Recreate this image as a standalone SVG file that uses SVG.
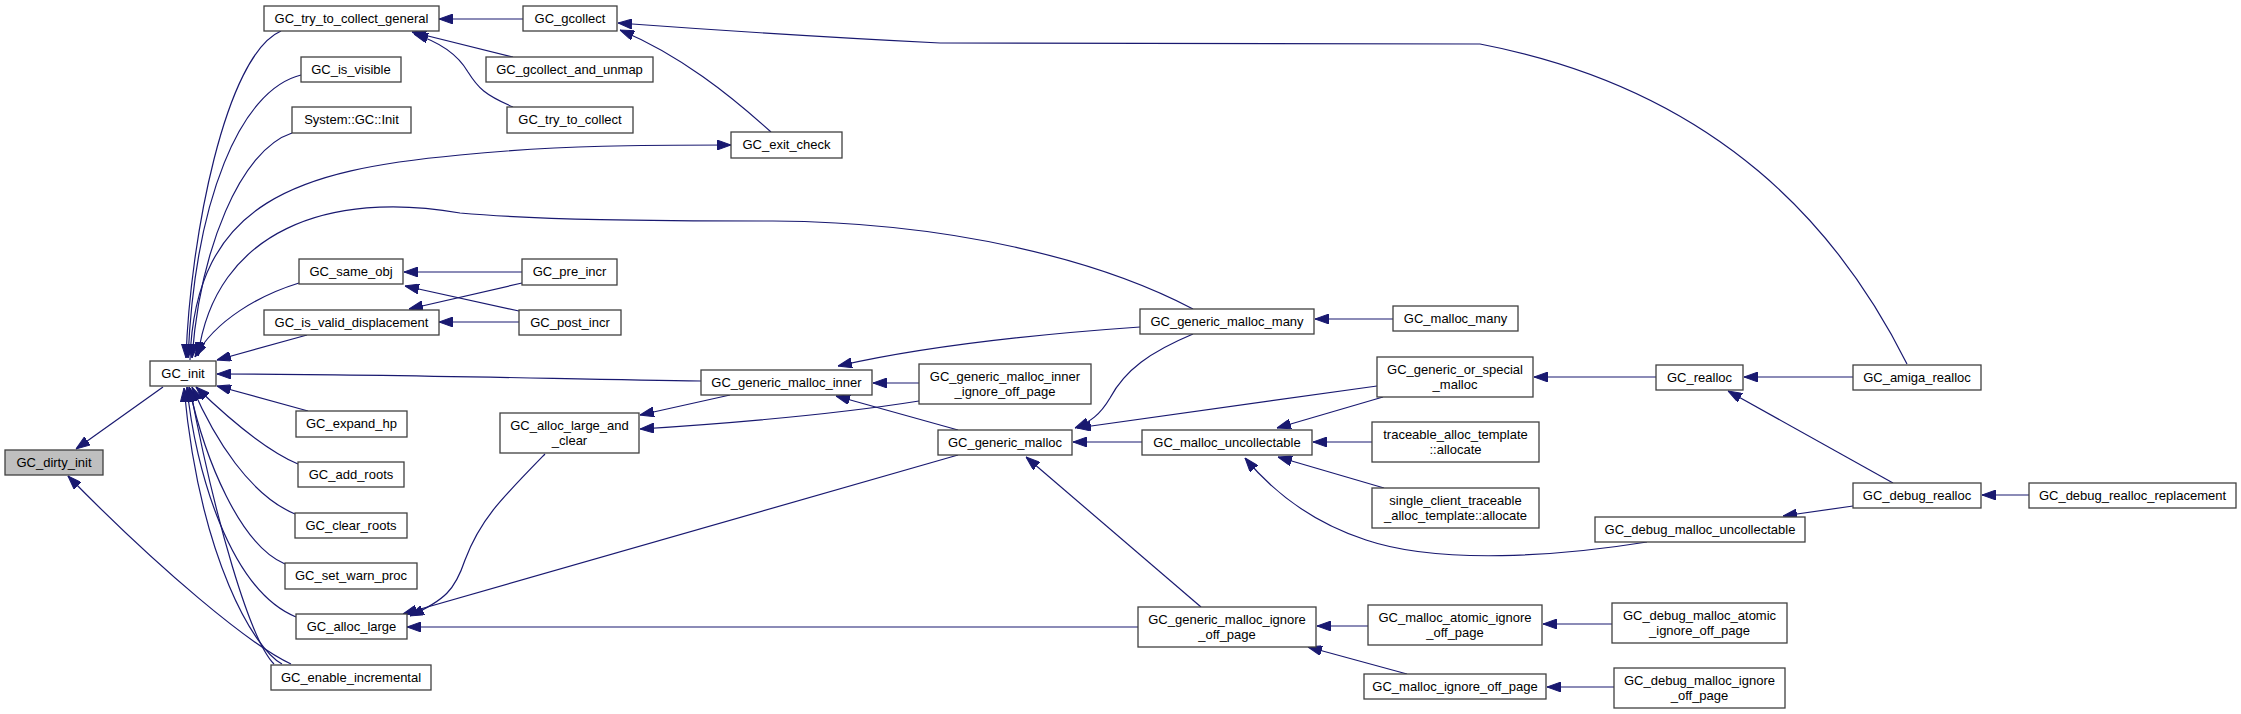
<svg xmlns="http://www.w3.org/2000/svg" width="2241" height="714" viewBox="0 0 2241 714">
<style>
.n rect{fill:#fff;stroke:#404040;stroke-width:1.3}
.n.root rect{fill:#bfbfbf}
.n text{font-family:"Liberation Sans",Arial,sans-serif;font-size:13px;fill:#000;text-anchor:middle}
#edges path{fill:none;stroke:#191970;stroke-width:1.2;marker-end:url(#ah)}
#edges path.na{marker-end:none}
</style>
<defs>
<marker id="ah" markerUnits="userSpaceOnUse" markerWidth="14" markerHeight="10" refX="14" refY="5" orient="auto">
<path d="M0,0 L14,5 L0,10 z" fill="#191970" stroke="#191970"/>
</marker>
</defs>
<rect width="2241" height="714" fill="#fff"/>
<g id="edges">
<path d="M163,387 L76,449"/>
<path d="M291,664 C250,645 160,570 68,476"/>
<path d="M281,31 C225,55 190,240 186,358"/>
<path d="M301,75 C240,90 195,200 188,358"/>
<path d="M292,133 C240,150 200,250 192,358"/>
<path d="M190,360 C195,200 300,170 460,155 C560,145 650,145 731,145"/>
<path d="M1193,309 C1100,260 950,222 773,221 C650,221 540,220 460,213 C330,190 215,230 198,356"/>
<path d="M299,283 C260,295 215,320 195,357"/>
<path d="M307,335 L217,360"/>
<path d="M701,381 C560,379 380,374 217,374"/>
<path d="M308,411 L217,386"/>
<path d="M298,464 C265,450 230,420 196,387"/>
<path d="M295,514 C250,495 215,440 192,387"/>
<path d="M285,564 C240,545 205,460 189,387"/>
<path d="M296,617 C230,590 195,470 187,387"/>
<path d="M282,664 C255,650 200,560 184,388"/>
<path d="M274,664 C250,640 215,520 190,388"/>
<path d="M523,19 L439,19"/>
<path d="M513,57 L412,32"/>
<path d="M513,107 C485,95 478,88 468,72 C458,55 440,42 414,34"/>
<path d="M1907,364 C1840,230 1720,90 1480,44 L940,43 C800,36 700,29 618,23"/>
<path d="M771,132 C730,95 680,55 620,30"/>
<path d="M522,272 L404,272"/>
<path d="M519,311 L405,286"/>
<path d="M522,283 L409,309"/>
<path d="M519,322 L439,322"/>
<path d="M1140,327 C1040,334 930,345 838,366"/>
<path d="M919,383 L873,383"/>
<path d="M958,430 L836,396"/>
<path d="M730,395 L640,415"/>
<path d="M919,401 C850,412 750,422 640,429"/>
<path d="M545,454 C500,500 480,520 465,560 C455,590 445,600 410,616"/>
<path d="M958,455 L403,614"/>
<path d="M1138,627 L407,627"/>
<path d="M1193,334 C1150,352 1125,370 1110,398 C1100,415 1090,422 1075,428"/>
<path d="M1377,386 L1077,428"/>
<path d="M1142,442 L1073,442"/>
<path d="M1201,607 L1026,457"/>
<path d="M1383,397 L1277,428"/>
<path d="M1372,442 L1313,442"/>
<path d="M1384,488 L1278,457"/>
<path d="M1647,542 C1560,556 1440,565 1366,540 C1320,525 1280,500 1245,458"/>
<path d="M1393,319 L1315,319"/>
<path d="M1656,377 L1534,377"/>
<path d="M1853,377 L1744,377"/>
<path d="M1893,483 L1728,391"/>
<path d="M1853,506 L1783,516"/>
<path d="M2029,495 L1982,495"/>
<path d="M1368,626 L1317,626"/>
<path d="M1407,674 L1308,647"/>
<path d="M1612,624 L1543,624"/>
<path d="M1614,687 L1547,687"/>
</g>
<g id="n_dirty_init" class="n root"><rect x="5" y="450" width="98" height="25"/><text x="54" y="467">GC_dirty_init</text></g>
<g id="n_init" class="n"><rect x="150" y="361" width="66" height="25"/><text x="183" y="378">GC_init</text></g>
<g id="n_try_to_collect_general" class="n"><rect x="264" y="6" width="175" height="25"/><text x="351.5" y="23">GC_try_to_collect_general</text></g>
<g id="n_is_visible" class="n"><rect x="301" y="57" width="100" height="25"/><text x="351" y="74">GC_is_visible</text></g>
<g id="n_system_gc_init" class="n"><rect x="292" y="107" width="119" height="26"/><text x="351.5" y="124">System::GC::Init</text></g>
<g id="n_same_obj" class="n"><rect x="299" y="259" width="104" height="25"/><text x="351" y="276">GC_same_obj</text></g>
<g id="n_is_valid_displacement" class="n"><rect x="264" y="310" width="175" height="25"/><text x="351.5" y="327">GC_is_valid_displacement</text></g>
<g id="n_expand_hp" class="n"><rect x="296" y="411" width="111" height="26"/><text x="351.5" y="428">GC_expand_hp</text></g>
<g id="n_add_roots" class="n"><rect x="298" y="462" width="106" height="25"/><text x="351" y="479">GC_add_roots</text></g>
<g id="n_clear_roots" class="n"><rect x="295" y="513" width="112" height="25"/><text x="351" y="530">GC_clear_roots</text></g>
<g id="n_set_warn_proc" class="n"><rect x="285" y="563" width="132" height="26"/><text x="351" y="580">GC_set_warn_proc</text></g>
<g id="n_alloc_large" class="n"><rect x="296" y="614" width="111" height="25"/><text x="351.5" y="631">GC_alloc_large</text></g>
<g id="n_enable_incremental" class="n"><rect x="271" y="665" width="160" height="25"/><text x="351" y="682">GC_enable_incremental</text></g>
<g id="n_gcollect" class="n"><rect x="523" y="6" width="94" height="25"/><text x="570" y="23">GC_gcollect</text></g>
<g id="n_gcollect_and_unmap" class="n"><rect x="486" y="57" width="167" height="25"/><text x="569.5" y="74">GC_gcollect_and_unmap</text></g>
<g id="n_try_to_collect" class="n"><rect x="507" y="107" width="126" height="26"/><text x="570" y="124">GC_try_to_collect</text></g>
<g id="n_exit_check" class="n"><rect x="731" y="132" width="111" height="26"/><text x="786.5" y="149">GC_exit_check</text></g>
<g id="n_pre_incr" class="n"><rect x="522" y="259" width="95" height="26"/><text x="569.5" y="276">GC_pre_incr</text></g>
<g id="n_post_incr" class="n"><rect x="519" y="310" width="102" height="25"/><text x="570" y="327">GC_post_incr</text></g>
<g id="n_generic_malloc_inner" class="n"><rect x="701" y="370" width="171" height="25"/><text x="786.5" y="387">GC_generic_malloc_inner</text></g>
<g id="n_alloc_large_and_clear" class="n"><rect x="500" y="413" width="139" height="40"/><text x="569.5" y="430">GC_alloc_large_and</text><text x="569.5" y="445">_clear</text></g>
<g id="n_generic_malloc_inner_ignore_off_page" class="n"><rect x="919" y="364" width="172" height="40"/><text x="1005" y="381">GC_generic_malloc_inner</text><text x="1005" y="396">_ignore_off_page</text></g>
<g id="n_generic_malloc" class="n"><rect x="938" y="430" width="134" height="25"/><text x="1005" y="447">GC_generic_malloc</text></g>
<g id="n_generic_malloc_many" class="n"><rect x="1140" y="309" width="174" height="25"/><text x="1227" y="326">GC_generic_malloc_many</text></g>
<g id="n_malloc_many" class="n"><rect x="1393" y="306" width="125" height="25"/><text x="1455.5" y="323">GC_malloc_many</text></g>
<g id="n_generic_or_special_malloc" class="n"><rect x="1377" y="357" width="156" height="40"/><text x="1455" y="374">GC_generic_or_special</text><text x="1455" y="389">_malloc</text></g>
<g id="n_malloc_uncollectable" class="n"><rect x="1142" y="430" width="170" height="25"/><text x="1227" y="447">GC_malloc_uncollectable</text></g>
<g id="n_traceable_alloc" class="n"><rect x="1372" y="422" width="167" height="40"/><text x="1455.5" y="439">traceable_alloc_template</text><text x="1455.5" y="454">::allocate</text></g>
<g id="n_single_client_alloc" class="n"><rect x="1372" y="488" width="167" height="40"/><text x="1455.5" y="505">single_client_traceable</text><text x="1455.5" y="520">_alloc_template::allocate</text></g>
<g id="n_realloc" class="n"><rect x="1656" y="365" width="87" height="25"/><text x="1699.5" y="382">GC_realloc</text></g>
<g id="n_amiga_realloc" class="n"><rect x="1853" y="365" width="128" height="25"/><text x="1917" y="382">GC_amiga_realloc</text></g>
<g id="n_debug_realloc" class="n"><rect x="1853" y="483" width="128" height="25"/><text x="1917" y="500">GC_debug_realloc</text></g>
<g id="n_debug_realloc_replacement" class="n"><rect x="2029" y="483" width="207" height="25"/><text x="2132.5" y="500">GC_debug_realloc_replacement</text></g>
<g id="n_debug_malloc_uncollectable" class="n"><rect x="1595" y="517" width="210" height="25"/><text x="1700" y="534">GC_debug_malloc_uncollectable</text></g>
<g id="n_generic_malloc_ignore_off_page" class="n"><rect x="1138" y="607" width="178" height="40"/><text x="1227" y="624">GC_generic_malloc_ignore</text><text x="1227" y="639">_off_page</text></g>
<g id="n_malloc_atomic_ignore_off_page" class="n"><rect x="1368" y="605" width="174" height="40"/><text x="1455" y="622">GC_malloc_atomic_ignore</text><text x="1455" y="637">_off_page</text></g>
<g id="n_malloc_ignore_off_page" class="n"><rect x="1364" y="674" width="182" height="25"/><text x="1455" y="691">GC_malloc_ignore_off_page</text></g>
<g id="n_debug_malloc_atomic_ignore_off_page" class="n"><rect x="1612" y="603" width="175" height="40"/><text x="1699.5" y="620">GC_debug_malloc_atomic</text><text x="1699.5" y="635">_ignore_off_page</text></g>
<g id="n_debug_malloc_ignore_off_page" class="n"><rect x="1614" y="668" width="171" height="40"/><text x="1699.5" y="685">GC_debug_malloc_ignore</text><text x="1699.5" y="700">_off_page</text></g>
</svg>
